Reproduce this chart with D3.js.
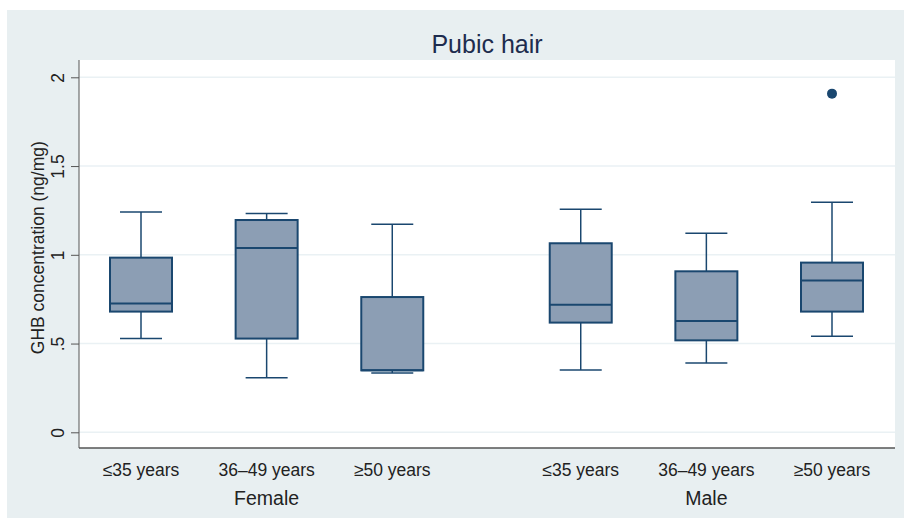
<!DOCTYPE html>
<html>
<head>
<meta charset="utf-8">
<script src="https://cdn.jsdelivr.net/npm/d3@7"></script>
<style>
  body { margin: 0; background: #ffffff; }
  text { font-family: "Liberation Sans", Arial, sans-serif; }
</style>
</head>
<body>
<div id="wrapper"></div>
<script>

// data
const ageGroups = ["≤35 years", "36–49 years", "≥50 years", "≤35 years", "36–49 years", "≥50 years"]
const sexGroups = ["Female", "Male"]
const sexOfBox = ["Female", "Female", "Female", "Male", "Male", "Male"]
const slotOfBox = [0, 1, 2, 3.5, 4.5, 5.5]

const whiskerLow  = [0.528, 0.308, 0.334, 0.351, 0.390, 0.541]
const q1          = [0.680, 0.528, 0.349, 0.618, 0.518, 0.680]
const medians     = [0.725, 1.038, 0.349, 0.719, 0.627, 0.855]
const q3          = [0.984, 1.196, 0.762, 1.065, 0.907, 0.956]
const whiskerHigh = [1.241, 1.232, 1.172, 1.256, 1.121, 1.296]

const outliers = [{box: 5, value: 1.908}]

const yTicks = [0, 0.5, 1, 1.5, 2]
const yTickLabels = ["0", ".5", "1", "1.5", "2"]

async function drawBoxChart() {

    let dimensions = {
        width: 904,
        height: 520,
        margin: {
          top: 60,
          right: 9,
          bottom: 72,
          left: 79,
        },
    }
    dimensions.boundedWidth = dimensions.width - dimensions.margin.left - dimensions.margin.right
    dimensions.boundedHeight = dimensions.height - dimensions.margin.top - dimensions.margin.bottom

    const navy = "#1a476f"

    //draw canvas
    const wrapper = d3.select("#wrapper")
        .append("svg")
        .attr("width", dimensions.width)
        .attr("height", dimensions.height)

    // stata style graph region
    wrapper.append("rect")
        .attr("x", 7)
        .attr("y", 10)
        .attr("width", dimensions.width - 7)
        .attr("height", 508)
        .attr("fill", "#e8eff1")

    const bounds = wrapper.append("g")
        .attr("transform", `translate(${dimensions.margin.left}, ${dimensions.margin.top})`)

    bounds.append("rect")
        .attr("width", dimensions.boundedWidth)
        .attr("height", dimensions.boundedHeight)
        .attr("fill", "#ffffff")

    //scales
    const yScale = d3.scaleLinear()
        .domain([0, 2])
        .range([372.3, 17.3])

    const xScale = d3.scaleLinear()
        .domain([0, 5.5])
        .range([62, 753])

    //grid lines
    bounds.append("g")
        .selectAll("line")
        .data(yTicks)
        .enter().append("line")
        .attr("x1", 0)
        .attr("x2", dimensions.boundedWidth)
        .attr("y1", d => yScale(d))
        .attr("y2", d => yScale(d))
        .attr("stroke", "#eaf1f4")
        .attr("stroke-width", 1.5)

    //y axis
    const yAxisGenerator = d3.axisLeft()
        .scale(yScale)
        .tickValues(yTicks)
        .tickSize(8)
        .tickFormat((d, i) => yTickLabels[i])

    const yAxis = bounds.append("g")
        .call(yAxisGenerator)
    yAxis.select(".domain")
        .attr("d", `M0,0V${dimensions.boundedHeight}`)
        .attr("stroke", "#555")
    yAxis.selectAll(".tick line").attr("stroke", "#555")
    yAxis.selectAll(".tick text")
        .attr("font-size", 17.5)
        .attr("fill", "#222")
        .attr("x", 0)
        .attr("dy", 0)
        .attr("text-anchor", "middle")
        .attr("transform", "translate(-15,0) rotate(-90)")
        .attr("dominant-baseline", "auto")

    yAxis.append("text")
        .attr("transform", `translate(${38 - dimensions.margin.left + 6}, ${yScale(1.04)}) rotate(-90)`)
        .attr("text-anchor", "middle")
        .attr("fill", "#222")
        .attr("font-size", 17.5)
        .text("GHB concentration (ng/mg)")

    //x axis line
    bounds.append("line")
        .attr("x1", 0)
        .attr("x2", dimensions.boundedWidth)
        .attr("y1", dimensions.boundedHeight)
        .attr("y2", dimensions.boundedHeight)
        .attr("stroke", "#555")
        .attr("stroke-width", 1.5)

    //age labels
    bounds.append("g")
        .selectAll("text")
        .data(ageGroups)
        .enter().append("text")
        .attr("x", (d, i) => xScale(slotOfBox[i]))
        .attr("y", dimensions.boundedHeight + 28)
        .attr("text-anchor", "middle")
        .attr("font-size", 17.5)
        .attr("fill", "#222")
        .text(d => d)

    //sex labels
    bounds.append("g")
        .selectAll("text")
        .data(sexGroups)
        .enter().append("text")
        .attr("x", d => {
            const slots = slotOfBox.filter((s, i) => sexOfBox[i] == d)
            return xScale(d3.mean(slots))
        })
        .attr("y", dimensions.boundedHeight + 57)
        .attr("text-anchor", "middle")
        .attr("font-size", 19.5)
        .attr("fill", "#222")
        .text(d => d)

    //boxes
    const boxWidth = 62
    const capWidth = 42
    const boxes = bounds.append("g")
        .selectAll("g")
        .data(d3.range(ageGroups.length))
        .enter().append("g")
        .attr("transform", i => `translate(${xScale(slotOfBox[i])}, 0)`)

    boxes.append("line")
        .attr("y1", i => yScale(q3[i]))
        .attr("y2", i => yScale(whiskerHigh[i]))
        .attr("stroke", navy)
        .attr("stroke-width", 1.5)
    boxes.append("line")
        .attr("y1", i => yScale(q1[i]))
        .attr("y2", i => yScale(whiskerLow[i]))
        .attr("stroke", navy)
        .attr("stroke-width", 1.5)
    boxes.append("line")
        .attr("x1", -capWidth / 2)
        .attr("x2", capWidth / 2)
        .attr("y1", i => yScale(whiskerHigh[i]))
        .attr("y2", i => yScale(whiskerHigh[i]))
        .attr("stroke", navy)
        .attr("stroke-width", 1.5)
    boxes.append("line")
        .attr("x1", -capWidth / 2)
        .attr("x2", capWidth / 2)
        .attr("y1", i => yScale(whiskerLow[i]))
        .attr("y2", i => yScale(whiskerLow[i]))
        .attr("stroke", navy)
        .attr("stroke-width", 1.5)
    boxes.append("rect")
        .attr("x", -boxWidth / 2)
        .attr("width", boxWidth)
        .attr("y", i => yScale(q3[i]))
        .attr("height", i => yScale(q1[i]) - yScale(q3[i]))
        .attr("fill", "#8c9eb4")
        .attr("stroke", navy)
        .attr("stroke-width", 2)
    boxes.append("line")
        .attr("x1", -boxWidth / 2)
        .attr("x2", boxWidth / 2)
        .attr("y1", i => yScale(medians[i]))
        .attr("y2", i => yScale(medians[i]))
        .attr("stroke", navy)
        .attr("stroke-width", 2)

    //outside values
    bounds.append("g")
        .selectAll("circle")
        .data(outliers)
        .enter().append("circle")
        .attr("cx", d => xScale(slotOfBox[d.box]))
        .attr("cy", d => yScale(d.value))
        .attr("r", 5)
        .attr("fill", navy)

    //title
    wrapper.append("text")
        .attr("x", 487)
        .attr("y", 53)
        .attr("text-anchor", "middle")
        .attr("font-size", 25)
        .attr("fill", "#1e2c4e")
        .text("Pubic hair")
}
drawBoxChart()

</script>
</body>
</html>
